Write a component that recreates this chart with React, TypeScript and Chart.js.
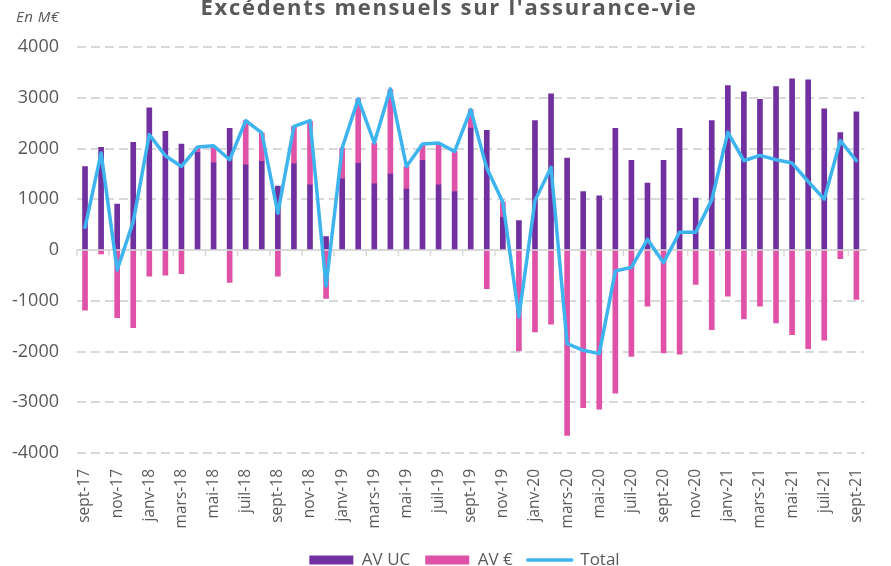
import React, { useEffect, useRef } from 'react';
import { Chart, registerables } from 'chart.js';

Chart.register(...registerables);

const months = [
  'sept-17', 'oct-17', 'nov-17', 'déc-17',
  'janv-18', 'févr-18', 'mars-18', 'avr-18', 'mai-18', 'juin-18', 'juil-18', 'août-18', 'sept-18', 'oct-18', 'nov-18', 'déc-18',
  'janv-19', 'févr-19', 'mars-19', 'avr-19', 'mai-19', 'juin-19', 'juil-19', 'août-19', 'sept-19', 'oct-19', 'nov-19', 'déc-19',
  'janv-20', 'févr-20', 'mars-20', 'avr-20', 'mai-20', 'juin-20', 'juil-20', 'août-20', 'sept-20', 'oct-20', 'nov-20', 'déc-20',
  'janv-21', 'févr-21', 'mars-21', 'avr-21', 'mai-21', 'juin-21', 'juil-21', 'août-21', 'sept-21',
];

const avUC = [
  1646, 2022, 903, 2121,
  2800, 2338, 2088, 1923, 1725, 2398, 1680, 1745, 1258, 1700, 1285, 263,
  1403, 1706, 1304, 1495, 1199, 1765, 1285, 1153, 2404, 2358, 646, 580,
  2549, 3077, 1812, 1153, 1067, 2398, 1765, 1318, 1765, 2398, 1021, 2549,
  3241, 3116, 2971, 3221, 3373, 3353, 2780, 2312, 2721,
];

const avEuro = [
  -1186, -79, -1331, -1528,
  -514, -494, -468, 106, 317, -638, 869, 561, -514, 737, 1251, -955,
  606, 1272, 804, 1667, 447, 310, 823, 790, 363, -764, 296, -1990,
  -1614, -1462, -3656, -3109, -3136, -2819, -2095, -1107, -2029, -2055, -678, -1568,
  -909, -1357, -1107, -1436, -1667, -1943, -1779, -171, -975,
];

const total = [
  448, 1910, -395, 560,
  2273, 1858, 1646, 2029, 2055, 1779, 2549, 2306, 725, 2437, 2549, -711,
  2009, 2978, 2108, 3175, 1646, 2088, 2108, 1943, 2767, 1614, 942, -1318,
  975, 1627, -1844, -1976, -2042, -415, -342, 211, -250, 349, 349, 988,
  2319, 1759, 1864, 1779, 1713, 1350, 1002, 2154, 1759,
];

const TITLE = "Excédents mensuels sur l'assurance-vie";
const UNIT = 'En M€';
const SERIES_NAMES = ['AV UC', 'AV €', 'Total'];

const PURPLE = '#7030A0';
const PINK = '#DF52A7';
const BLUE = '#3EB4EF';
const TEXT = '#595959';
const GRID = '#D9D9D9';
const FONT = "'Open Sans', sans-serif";

const decorPlugin = {
  id: 'decor',
  afterLayout(chart: any) {
    if (chart.legend) {
      chart.legend.left += 40;
    }
  },
  beforeDatasetsDraw(chart: any) {
    const { ctx, chartArea, scales } = chart;
    const y0 = scales.y.getPixelForValue(0);
    const n = months.length;
    const cw = (chartArea.right - chartArea.left) / n;
    ctx.save();
    ctx.strokeStyle = GRID;
    ctx.lineWidth = 2;
    ctx.beginPath();
    ctx.moveTo(chartArea.left, y0);
    ctx.lineTo(chartArea.right + 2, y0);
    ctx.stroke();
    ctx.lineWidth = 1.5;
    ctx.beginPath();
    for (let i = 0; i <= n; i += 2) {
      const x = chartArea.left + i * cw;
      ctx.moveTo(x, y0);
      ctx.lineTo(x, y0 + 6);
    }
    ctx.stroke();
    ctx.restore();
  },
  afterDraw(chart: any) {
    const { ctx } = chart;
    ctx.save();
    ctx.fillStyle = TEXT;
    ctx.font = `bold 22px ${FONT}`;
    (ctx as any).letterSpacing = '1.7px';
    ctx.textAlign = 'center';
    ctx.textBaseline = 'alphabetic';
    ctx.fillText(TITLE, 449, 15);
    (ctx as any).letterSpacing = '0.5px';
    ctx.font = `italic 15px ${FONT}`;
    ctx.textAlign = 'left';
    ctx.textBaseline = 'middle';
    ctx.fillText(UNIT, 16, 18);
    ctx.restore();
  },
};

export default function App() {
  const canvasRef = useRef<HTMLCanvasElement | null>(null);

  useEffect(() => {
    document.body.style.margin = '0';
    const canvas = canvasRef.current;
    if (!canvas) return;
    const chart = new Chart(canvas, {
      type: 'bar',
      data: {
        labels: months,
        datasets: [
          {
            type: 'line',
            label: SERIES_NAMES[2],
            data: total,
            borderColor: BLUE,
            backgroundColor: BLUE,
            borderWidth: 3.5,
            pointRadius: 0,
            tension: 0,
            stack: 'line',
            order: 0,
            borderJoinStyle: 'round',
            borderCapStyle: 'round',
          } as any,
          {
            type: 'bar',
            label: SERIES_NAMES[0],
            data: avUC,
            backgroundColor: PURPLE,
            barThickness: 5,
            stack: 'bars',
            order: 1,
          },
          {
            type: 'bar',
            label: SERIES_NAMES[1],
            data: avEuro,
            backgroundColor: PINK,
            barThickness: 5,
            stack: 'bars',
            order: 1,
          },
        ],
      },
      options: {
        responsive: false,
        animation: false,
        layout: { padding: { left: 0, right: 2, top: 47, bottom: -12.5 } },
        scales: {
          x: {
            stacked: true,
            grid: { display: false, drawTicks: false },
            border: { display: false },
            afterFit: (s: any) => { s.height = 83.5; },
            ticks: {
              autoSkip: false,
              minRotation: 90,
              maxRotation: 90,
              padding: 16,
              color: TEXT,
              font: { family: FONT, size: 15.5 },
              callback: (_v: any, i: number) => (i % 2 === 0 ? months[i] : ''),
            },
          },
          y: {
            stacked: true,
            min: -4000,
            max: 4000,
            afterFit: (s: any) => { s.width = 77; },
            grid: {
              drawTicks: false,
              lineWidth: 2,
              color: (c: any) => (c.tick && c.tick.value === 0 ? 'rgba(0,0,0,0)' : GRID),
            },
            border: { display: false, dash: [9, 5] },
            ticks: {
              stepSize: 1000,
              padding: 18,
              color: TEXT,
              font: { family: FONT, size: 18 },
              callback: (v: any) => String(v),
            },
          },
        },
        plugins: {
          title: { display: false },
          tooltip: { enabled: false },
          legend: {
            position: 'bottom',
            labels: {
              usePointStyle: true,
              pointStyleWidth: 44,
              boxHeight: 9,
              padding: 15,
              color: TEXT,
              font: { family: FONT, size: 17 },
              sort: (a: any, b: any) => SERIES_NAMES.indexOf(a.text) - SERIES_NAMES.indexOf(b.text),
              generateLabels: (ch: any) => {
                const items = (Chart.defaults.plugins.legend.labels as any).generateLabels(ch);
                items.forEach((it: any) => {
                  if (it.text === SERIES_NAMES[2]) {
                    it.pointStyle = 'line';
                    it.strokeStyle = BLUE;
                    it.lineWidth = 3.5;
                    it.lineCap = 'round';
                  } else {
                    it.pointStyle = 'rect';
                    it.lineWidth = 0;
                  }
                });
                return items;
              },
            },
          },
        },
      },
      plugins: [decorPlugin],
    });
    return () => chart.destroy();
  }, []);

  return (
    <div style={{ width: 891, height: 566, position: 'relative' }}>
      <canvas ref={canvasRef} width={891} height={566} />
    </div>
  );
}
